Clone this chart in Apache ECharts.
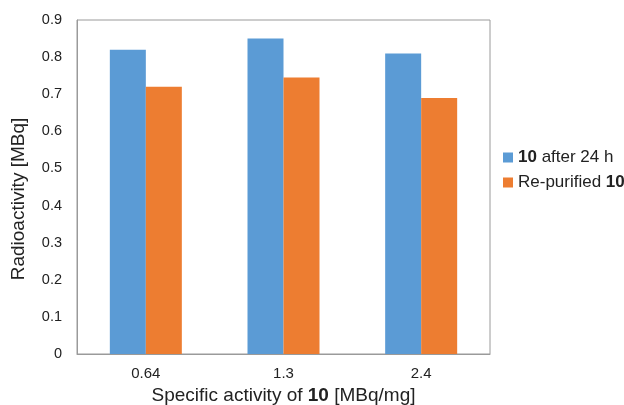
<!DOCTYPE html>
<html><head><meta charset="utf-8">
<script src="https://cdn.jsdelivr.net/npm/echarts@6/dist/echarts.min.js"></script>
<style>html,body{margin:0;padding:0;background:#fff}#c{width:624px;height:405px}</style>
</head><body><div id="c"></div>
<script>
const categories = ['0.64', '1.3', '2.4'];
const after24h = [0.82, 0.85, 0.81];
const repurified = [0.72, 0.745, 0.69];
const yTicks = [0, 0.1, 0.2, 0.3, 0.4, 0.5, 0.6, 0.7, 0.8, 0.9];

const chart = echarts.init(document.getElementById('c'));
const font = 'Liberation Sans, Arial, sans-serif';
chart.setOption({
  animation: false,
  textStyle: { fontFamily: font },
  grid: { left: 77, right: 134, top: 20, bottom: 51, show: true, borderColor: '#9a9a9a', borderWidth: 1, outerBoundsMode: 'none', containLabel: false },
  legend: {
    orient: 'vertical', left: 498, top: 144, itemWidth: 10, itemHeight: 10, itemGap: 8,
    icon: 'rect',
    textStyle: { fontSize: 17, color: '#222', fontFamily: font, rich: { b: { fontWeight: 'bold', fontSize: 17, color: '#222', fontFamily: font } } },
    formatter: function (n) {
      if (n === '10 after 24 h') return '{b|10} after 24 h';
      return 'Re-purified {b|10}';
    },
    data: ['10 after 24 h', 'Re-purified 10']
  },
  xAxis: {
    type: 'category', data: categories,
    axisLine: { lineStyle: { color: '#9a9a9a' } },
    axisTick: { show: false },
    axisLabel: { fontSize: 15, color: '#222', margin: 12, fontFamily: font },
    name: 'Specific activity of {b|10} [MBq/mg]', nameLocation: 'middle', nameGap: 30,
    nameTextStyle: { fontSize: 19, color: '#222', fontFamily: font, rich: { b: { fontWeight: 'bold', fontSize: 19, color: '#222', fontFamily: font } } }
  },
  yAxis: {
    type: 'value', min: 0, max: 0.9, interval: 0.1,
    axisLine: { show: true, lineStyle: { color: '#9a9a9a' } },
    axisTick: { show: false },
    splitLine: { show: false },
    axisLabel: { fontSize: 14.5, color: '#222', margin: 15, fontFamily: font,
      formatter: function (v) { const t = yTicks.find(x => Math.abs(x - v) < 1e-6); return t === 0 ? '0' : String(+t.toFixed(1)); } },
    name: 'Radioactivity [MBq]', nameLocation: 'middle', nameGap: 49,
    nameTextStyle: { fontSize: 19, color: '#222', fontFamily: font, padding: [0, 24, 0, 0] }
  },
  series: [
    { name: '10 after 24 h', type: 'bar', data: after24h, itemStyle: { color: '#5b9bd5' }, barWidth: 36, barGap: '0%' },
    { name: 'Re-purified 10', type: 'bar', data: repurified, itemStyle: { color: '#ed7d31' }, barWidth: 36, barGap: '0%' }
  ]
});
</script></body></html>
